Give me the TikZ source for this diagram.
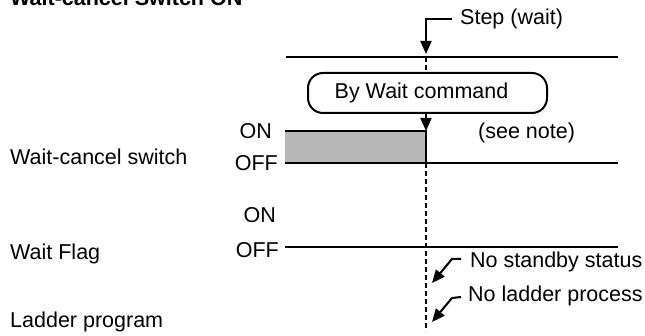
\documentclass[tikz,border=0pt]{standalone}
\usepackage{fontspec}
\setmainfont{Liberation Sans}
\usetikzlibrary{arrows.meta}
\begin{document}
\begin{tikzpicture}[x=1pt,y=-1pt,
  txt/.style={inner sep=0pt,font=\fontsize{21.5}{24}\selectfont},
  ttl/.style={inner sep=0pt,font=\fontsize{21.5}{24}\selectfont\bfseries},
  sig/.style={line width=2pt},
  dash line/.style={line width=2pt,dash pattern=on 5pt off 3pt},
  arr/.style={line width=2pt,-{Triangle[length=13pt,width=11pt]}},
  cmdbox/.style={draw,line width=2pt,rounded corners=15pt,minimum width=239pt,minimum height=40pt,inner sep=0pt,font=\fontsize{21.5}{24}\selectfont},
  shade/.style={fill=black!28}
]
\useasboundingbox (0,0) rectangle (645,336);

% title (clipped at top)
\node[ttl,anchor=base west] (title) at (10,6) {Wait-cancel Switch ON};

% row labels
\node[txt,anchor=base west] (wcs) at (10,165) {Wait-cancel switch};
\node[txt,anchor=base west] (wf) at (10,260) {Wait Flag};
\node[txt,anchor=base west] (lp) at (10,328) {Ladder program};

% top line
\coordinate (tl1) at (286,57);
\coordinate (tl2) at (618,57);
\draw[sig] (tl1) -- (tl2);

% step (wait)
\node[txt,anchor=base west] (step) at (460,25) {Step (wait)};
\coordinate (s0) at (452,19);
\coordinate (s1) at (426,19);
\coordinate (s2) at (426,54);
\draw[arr] (s0) -- (s1) -- (s2);

% command box
\node[cmdbox] (cmd) at (427.5,93) {\hspace*{-12pt}By Wait command};
\coordinate (d0) at (426,57);
\coordinate (d1) at (426,73);
\draw[dash line] (d0) -- (d1);
\coordinate (c1) at (426,131);
\draw[arr] (cmd.south -| c1) -- (c1);

% wait-cancel switch signal
\coordinate (w1) at (285,131);
\coordinate (w2) at (426,131);
\coordinate (w3) at (426,163);
\coordinate (w4) at (285,163);
\coordinate (w5) at (618,163);
\fill[shade] (w1) rectangle (w3);
\draw[sig] (w1) -- (w2) -- (w3);
\draw[sig] (w4) -- (w5);
\node[txt,anchor=east] (on1) at (272,131) {ON};
\node[txt,anchor=east] (off1) at (278,163) {OFF};
\node[txt,anchor=base west] (note) at (478,139) {(see note)};

% wait flag signal
\coordinate (f1) at (285,247);
\coordinate (f2) at (618,247);
\draw[sig] (f1) -- (f2);
\node[txt,anchor=east] (on2) at (276,215) {ON};
\node[txt,anchor=east] (off2) at (279,250) {OFF};

% dashed time line
\coordinate (d2) at (426,163);
\coordinate (d3) at (426,331);
\draw[dash line] (d2) -- (d3);

% notes
\node[txt,anchor=base west] (nss) at (470,268) {No standby status};
\node[txt,anchor=base west] (nlp) at (468,302) {No ladder process};
\coordinate (a1) at (461,259);
\coordinate (a1t) at (432,283);
\draw[arr] (a1) -- (452,259) -- (a1t);
\coordinate (a2) at (461,297);
\coordinate (a2t) at (432,322);
\draw[arr] (a2) -- (452,298) -- (a2t);
\end{tikzpicture}
\end{document}
